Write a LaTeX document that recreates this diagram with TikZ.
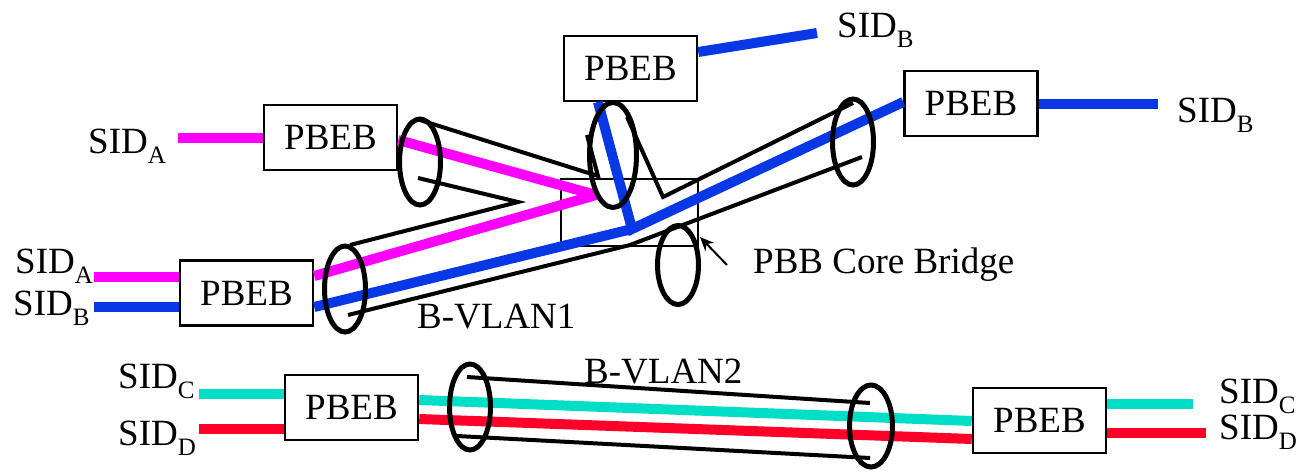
\documentclass[tikz,border=0pt]{standalone}
\usepackage{fontspec}
\setmainfont{Liberation Serif}
\usetikzlibrary{arrows.meta,shapes.geometric}
\definecolor{sidmag}{RGB}{255,0,255}
\definecolor{sidblue}{RGB}{8,56,230}
\definecolor{sidcyan}{RGB}{0,222,200}
\definecolor{sidred}{RGB}{255,0,40}
\newcommand{\sidlbl}[1]{SID\raisebox{-10pt}{\fontsize{25}{25}\selectfont #1}}
\begin{document}
\begin{tikzpicture}[x=1pt,y=-1pt,
  box/.style={draw,line width=2.5pt,minimum width=133pt,minimum height=65pt,inner sep=0pt,fill=white,font=\fontsize{37}{37}\selectfont},
  lbl/.style={anchor=base west,inner sep=0pt,font=\fontsize{37}{37}\selectfont},
  cl/.style={line width=10pt},
  mag/.style={cl,draw=sidmag},
  blu/.style={cl,draw=sidblue},
  cya/.style={cl,draw=sidcyan},
  rd/.style={cl,draw=sidred},
  tube/.style={line width=4pt,line join=miter},
  ring/.style={draw,ellipse,line width=5pt,inner sep=0pt,minimum width=41pt,minimum height=86pt},
  core/.style={draw,line width=1.5pt}
]
\useasboundingbox (0,0) rectangle (1298,472);

% core bridge rectangle
\draw[core] (561,179) rectangle (698,246);

% boxes
\node[box] (b1) at (630.5,68.5) {PBEB};
\node[box] (b2) at (971,103.5) {PBEB};
\node[box] (b3) at (330.5,137.5) {PBEB};
\node[box] (b4) at (246.5,293) {PBEB};
\node[box] (b5) at (351.5,407.5) {PBEB};
\node[box] (b6) at (1039.5,420.5) {PBEB};

% labels
\node[lbl] (sA1) at (88,153) {\sidlbl{A}};
\node[lbl] (sA2) at (15,273) {\sidlbl{A}};
\node[lbl] (sB2) at (13,315) {\sidlbl{B}};
\node[lbl] (sB1) at (837,37) {\sidlbl{B}};
\node[lbl] (sB3) at (1177,122) {\sidlbl{B}};
\node[lbl] (sC1) at (118,388) {\sidlbl{C}};
\node[lbl] (sD1) at (118,445) {\sidlbl{D}};
\node[lbl] (sC2) at (1219,403) {\sidlbl{C}};
\node[lbl] (sD2) at (1219,439) {\sidlbl{D}};
\node[lbl] (v1) at (417,328) {B-VLAN1};
\node[lbl] (v2) at (584,383) {B-VLAN2};
\node[lbl] (pcb) at (753,273) {PBB Core Bridge};

% coordinates of line ends
\coordinate (mA1) at (178,138);
\coordinate (mA2) at (94,277);
\coordinate (bB2) at (94,307);
\coordinate (bB1) at (817,33);
\coordinate (bB3) at (1158,104);
\coordinate (cC1) at (199,394);
\coordinate (rD1) at (199,429);
\coordinate (cC2) at (1193,404);
\coordinate (rD2) at (1206,433);
\coordinate (mtip) at (596,195);
\coordinate (bbend) at (632,229);

% coloured links
\draw[mag] (mA1) -- (mA1 -| b3.west);
\draw[mag] (mA2) -- (mA2 -| b4.west);
\draw[blu] (bB2) -- (bB2 -| b4.west);
\draw[mag,line join=bevel] (b3.east |- 0,140) -- (mtip) -- (b4.east |- 0,276);
\draw[blu,line join=miter] (598,102) -- (bbend) -- (b2.west |- 0,102);
\draw[blu] (b4.east |- 0,307) -- (bbend);
\draw[blu] (b1.east |- 0,52) -- (bB1);
\draw[blu] (b2.east |- 0,104) -- (bB3);
\draw[cya] (cC1) -- (cC1 -| b5.west);
\draw[rd] (rD1) -- (rD1 -| b5.west);
\draw[cya] (b5.east |- 0,400) -- (b6.west |- 0,421);
\draw[rd] (b5.east |- 0,419) -- (b6.west |- 0,439);
\draw[cya] (b6.east |- 0,404) -- (cC2);
\draw[rd] (b6.east |- 0,433) -- (rD2);

% tube ends (rings)
\node[ring] (eUL) at (420,162) {};
\node[ring,minimum width=47pt,minimum height=105pt] (eC) at (613,155) {};
\node[ring] (eR) at (853,142) {};
\node[ring] (eLL) at (345,289) {};
\node[ring,minimum height=79pt] (eK) at (678,265) {};
\node[ring] (eBL) at (470,407) {};
\node[ring,minimum width=43pt,minimum height=82pt] (eBR) at (871,426) {};

% tube walls
\draw[tube] (420,120) -- (598,176) -- (587,135);
\draw[tube] (418,178) -- (518,202) -- (350,245);
\draw[tube] (348,315) -- (630,245) -- (862,157);
\draw[tube] (853,103) -- (663,197) -- (627,117);
\draw[tube] (467,377) -- (870,403);
\draw[tube] (457,436) -- (870,458);

% arrow to core bridge
\coordinate (atip) at (700,237);
\draw[line width=2pt,-{Stealth[length=14pt,width=12pt]}] (727,265) -- (atip);
\end{tikzpicture}
\end{document}
